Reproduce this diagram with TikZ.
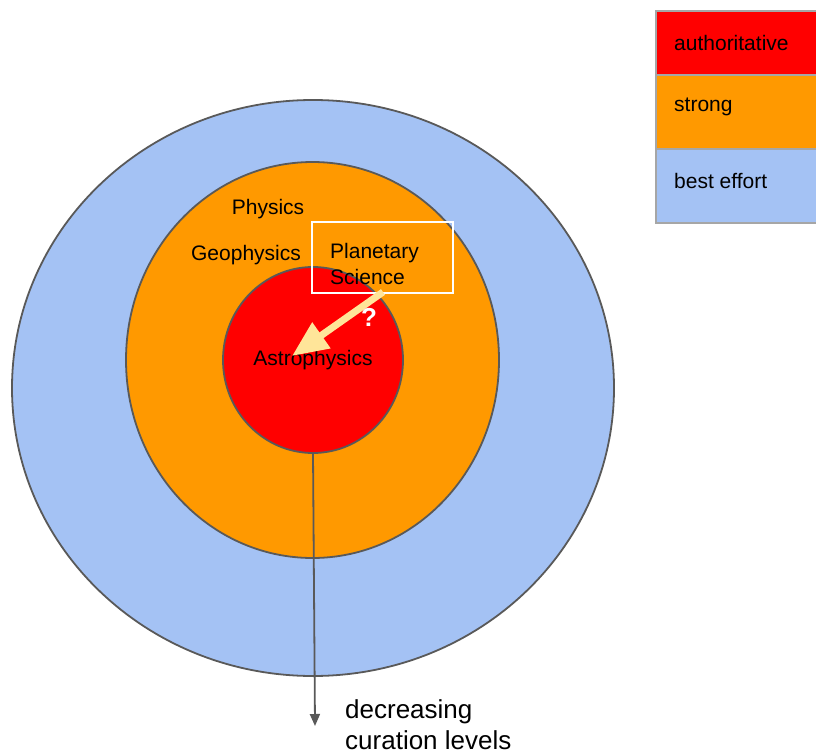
\documentclass[tikz,border=0pt]{standalone}
\usepackage{fontspec}
\setmainfont{Liberation Sans}
\usetikzlibrary{arrows.meta,shapes.geometric}
\definecolor{cblue}{HTML}{A4C2F4}
\definecolor{corange}{HTML}{FF9900}
\definecolor{cred}{HTML}{FF0000}
\definecolor{cyel}{HTML}{FFE599}
\definecolor{cedge}{HTML}{595959}
\definecolor{cleg}{HTML}{A6A6A6}
\tikzset{
  ring/.style={ellipse, draw=cedge, line width=1.8pt, inner sep=0pt, outer sep=0pt},
  lbl/.style={font=\fontsize{21}{24}\selectfont, inner sep=0pt},
  legbox/.style={draw=cleg, line width=1.8pt, anchor=north west, minimum width=180pt, inner sep=0pt},
}
\begin{document}
\begin{tikzpicture}[x=1pt,y=-1pt]
\useasboundingbox (0,0) rectangle (816,754);
\clip (0,0) rectangle (816,754);
% rings
\node[ring, fill=cblue, minimum width=602pt, minimum height=576pt] (outer) at (313,388) {};
\node[ring, fill=corange, minimum width=373pt, minimum height=396pt] (middle) at (312.5,360) {};
\node[ring, fill=cred, minimum width=180pt, minimum height=186pt] (inner) at (313,360) {};
\coordinate (arrowend) at (315,726);
\draw[cedge, line width=1.8pt, -{Triangle[length=12pt, width=10pt]}] (inner.south) -- (arrowend);
% labels
\node[lbl] (physics) at (268,209) {Physics};
\node[lbl] (geo) at (246,255) {Geophysics};
\node[lbl] (astro) at (313,360) {Astrophysics};
\node[draw=white, line width=1.8pt, minimum width=141pt, minimum height=71pt, inner sep=0pt] (planbox) at (382.5,257.5) {};
\node[lbl, anchor=north west, align=left, font=\fontsize{21}{26}\selectfont] (plan) at (330,243) {Planetary\\Science};
\coordinate (ys) at (383,292);
\coordinate (ye) at (292,356);
\draw[cyel, line width=7pt, -{Triangle[length=36pt, width=30pt]}] (ys) -- (ye);
\node[text=white, font=\fontsize{26}{30}\selectfont\bfseries, inner sep=0pt] (q) at (369,317) {?};
% legend
\node[legbox, fill=cred, minimum height=64pt] (l1) at (655,10) {};
\node[legbox, fill=corange, minimum height=74pt] (l2) at (655,74) {};
\node[legbox, fill=cblue, minimum height=74pt] (l3) at (655,148) {};
\node[lbl, anchor=west] (t1) at (674,43) {authoritative};
\node[lbl, anchor=west] (t2) at (674,107) {strong};
\node[lbl, anchor=west] (t3) at (674,181) {best effort};
% bottom text
\node[anchor=north west, align=left, inner sep=0pt, font=\fontsize{26}{31}\selectfont] (dec) at (345,699) {decreasing\\curation levels};
\end{tikzpicture}
\end{document}
